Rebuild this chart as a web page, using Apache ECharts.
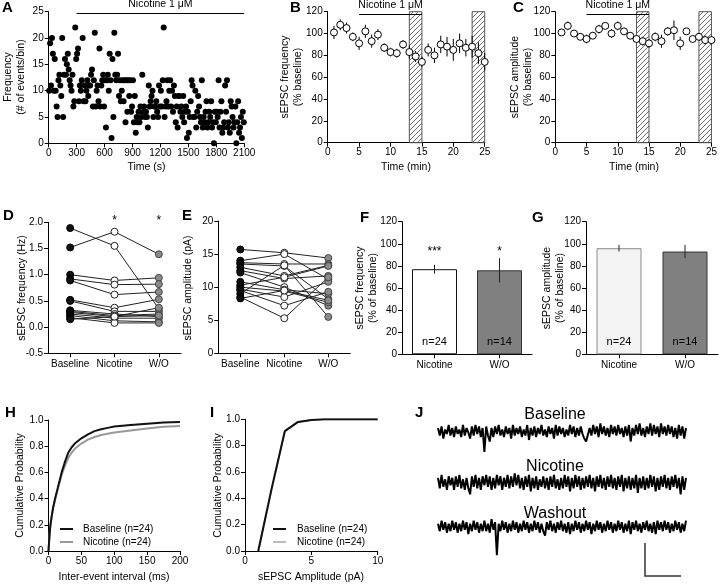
<!DOCTYPE html>
<html><head><meta charset="utf-8">
<script src="https://cdn.jsdelivr.net/npm/echarts@6/dist/echarts.min.js"></script>
<style>html,body{margin:0;padding:0;background:#fff}#c{width:720px;height:584px}</style>
</head><body><div id="c"></div>
<script>
// ---------- DATA ----------
const binSeconds = 10;
const aFrequency = [
10,19,11,20,17,10,16,10,7,5, 12,13,11,9,20,5,13,16,13,15, 17,14,12,11,10,13,7,8,22,16,
17,18,8,11,10,12,20,8,11,8, 10,12,9,11,11,13,14,7,12,21, 7,10,11,8,18,7,11,12,13,7,
12,3,12,13,10,17,12,1,16,5, 21,13,12,13,17,9,12,8,10,12, 8,12,4,12,6,12,9,12,6,7,
12,4,9,2,5,4,6,4,7,5, 13,6,7,5,6,5,3,11,7,8, 9,10,5,7,7,8,6,5,11,7,
10,7,12,22,5,7,8,12,7,10, 12,7,10,6,11,9,4,7,3,9, 9,6,7,5,9,4,6,7,1,6,
2,5,8,12,11,5,5,10,3,6, 9,7,5,4,12,3,5,4,6,8, 3,4,6,5,8,3,4,0,6,4,
6,5,12,3,6,8,2,3,4,11, 6,12,3,4,2,8,7,5,3,4, 7,0,4,8,2,3,5,1,6,4];

const timeMin = [1,2,3,4,5,6,7,8,9,10,11,12,13,14,15,16,17,18,19,20,21,22,23,24,25];
const bMean = [101,108,105,97,91,102,93,99,87,83,82,90,83,79,74,85,80,90,88,85,91,87,88,82,74];
const bSem  = [6,5,5,4,6,6,6,5,4,4,4,4,6,5,5,6,7,8,9,10,9,8,10,10,8];
const cMean = [101,107,100,97,95,98,104,107,100,107,102,98,95,93,91,97,93,102,103,91,102,95,97,94,94];
const cSem  = [3,4,3,3,4,3,4,3,4,4,3,3,3,4,4,4,6,4,9,6,3,2,3,4,4];
const hatchRanges = [[13,15],[23,25]];
const nicotineMin = [5,15];
const nicotineSec = [300,2100];

const dCats = ['Baseline','Nicotine','W/O'];
const dBaseline = [1.89,1.52,1.00,0.92,0.89,0.52,0.50,0.32,0.30,0.28,0.25,0.22,0.18,0.15];
const dNicotine = [1.55,1.82,0.89,0.81,0.62,0.37,0.30,0.25,0.22,0.20,0.17,0.12,0.08,0.20];
const dWashout  = [0.35,1.39,0.94,0.82,0.67,0.53,0.30,0.20,0.25,0.37,0.17,0.10,0.08,0.22];

const eBaseline = [15.7,14.0,13.7,13.5,13.0,12.5,12.2,10.8,10.3,10.0,9.7,9.5,9.0,8.5,8.3];
const eNicotine = [15.2,15.0,13.5,13.2,11.7,11.3,10.0,9.6,11.5,9.4,8.5,7.2,13.3,5.3,9.5];
const eWashout  = [14.4,11.2,13.5,8.2,13.3,11.7,7.2,9.0,13.2,7.7,10.8,9.3,5.5,11.5,8.0];

const fgCats = ['Nicotine','W/O'];
const fMean = [77,76], fSem = [4,11];
const gMean = [96,93], gSem = [3,6];
const nLabels = ['n=24','n=14'];
const fStars = ['***','*'];
const dStars = ['', '*', '*'];

const hX = [0,1,2,3,5,7,10,14,20,25,30,35,40,50,60,70,80,90,100,125,150,175,200];
const hBaseline = [0,0.08,0.15,0.2,0.27,0.33,0.4,0.48,0.6,0.68,0.75,0.79,0.82,0.86,0.89,0.915,0.93,0.94,0.95,0.962,0.972,0.98,0.985];
const hNicotine = [0,0.08,0.15,0.2,0.27,0.33,0.39,0.47,0.58,0.65,0.71,0.75,0.78,0.82,0.85,0.87,0.885,0.895,0.905,0.92,0.935,0.948,0.955];
const iX = [1,2,3,4,5,6,10];
const iBaseline = [0,0.47,0.91,0.98,0.995,1,1];
const iNicotine = [0,0.47,0.91,0.98,0.995,1,1];

const traceBaseline = [
2,-3,3,-5,1,-2,4,-3,2,-4, 3,-2,1,-4,4,-3,2,-1,-5,3, -3,4,-2,3,-4,2,-14,3,-3,-7,
2,-4,3,-2,4,-3,1,-4,3,-2, 2,-5,4,-3,2,-2,3,-4,1,-3, 4,-6,2,-3,3,-4,2,-2,4,-3,
1,-4,3,-2,2,-5,4,-3,3,-2, 2,-4,1,-3,4,-2,3,-4,2,-3, 3,-2,-5,-7,-7,2,-3,4,-2,3,
-4,5,-2,3,-3,2,-4,4,-2,3, -3,4,-2,2,-4,3,-3,4,-7,2, -3,4,-2,5,-3,2,-4,3,-2,5,
-3,4,-2,3,-4,5,-2,3,-3,4, -2,3,-4,2,-5,4,-3,3,-5,2];
const traceNicotine = [
3,-4,5,-3,2,-5,4,-2,3,-5, 4,-3,5,-4,2,-5,3,-4,-8,4, -3,5,-4,3,-5,4,-2,5,-3,4,
-5,3,-4,5,-2,4,-5,3,-3,5, -4,4,-3,6,-2,5,-4,3,-5,4, -3,5,-6,3,-4,4,-5,2,-3,4,
-4,3,-5,4,-3,5,-4,2,-5,3, -4,5,-3,4,-6,3,-4,5,-3,4, -5,3,-4,4,-3,5,-4,3,-6,4,
-3,5,-4,3,-5,4,-3,5,-4,3, -5,4,-3,5,-6,3,-4,4,-5,3, -4,5,-7,3,-4,4,-5,3,-4,5,
-3,4,-6,3,-5,4,-3,5,-4,3, -5,4,-3,5,-4,3,-8,4,-5,3];
const traceWashout = [
2,-3,4,-2,3,-4,2,-3,4,-2, 3,-4,2,-3,4,-2,3,-5,2,-3, 4,-2,3,-4,2,-3,4,-3,2,-4,
5,-2,3,-19,2,-3,4,-2,3,-4, 2,-3,4,-2,3,-4,2,-3,4,-2, 3,-4,2,-3,4,-2,3,-4,2,-3,
-6,3,-2,4,-3,2,-4,3,-2,4, -3,2,-4,3,-5,2,-3,4,-2,3, -4,2,-3,4,-2,3,-5,2,-3,4,
-2,3,-4,2,-3,4,-2,3,-4,2, -3,4,-2,3,-4,2,-3,4,-5,3, -2,4,-3,2,-4,3,-2,4,-3,2,
-4,3,-5,4,-2,3,-3,4,-2,3, -4,2,-3,4,-2,3,-4,2,-3,4];

// ---------- STYLE ----------
const FONT = '"Liberation Sans", Arial, Helvetica, sans-serif';
const chart = echarts.init(document.getElementById('c'), null, {renderer:'canvas'});

const pat = document.createElement('canvas');
pat.width = 5; pat.height = 5;
(function(){const c = pat.getContext('2d'); c.strokeStyle = '#6e6e6e'; c.lineWidth = 1;
 c.beginPath(); c.moveTo(0,5); c.lineTo(5,0); c.moveTo(-1,1); c.lineTo(1,-1); c.moveTo(4,6); c.lineTo(6,4); c.stroke();})();

const grids = [
 {left:48.7, top:11.7, width:195.5, height:131.6},   // A
 {left:327.7, top:11.7, width:157, height:131},      // B
 {left:555.3, top:11.7, width:157, height:131},      // C
 {left:48, top:222.3, width:133, height:131},        // D
 {left:218.3, top:221, width:132, height:132.3},     // E
 {left:402, top:221.7, width:130, height:132.6},     // F
 {left:586, top:221.7, width:132, height:132.6},     // G
 {left:48.5, top:420, width:131.5, height:131},      // H
 {left:245, top:419.3, width:132.7, height:131.7},   // I
 {left:438, top:419, width:248, height:45},          // J1
 {left:438, top:470.3, width:248, height:45},        // J2
 {left:438, top:514.7, width:248, height:45}         // J3
];

const axBase = () => ({
  axisLine:{show:true, onZero:false, lineStyle:{color:'#000', width:1}},
  axisTick:{show:true, length:4, lineStyle:{color:'#000', width:1}},
  axisLabel:{color:'#000', fontSize:10, fontFamily:FONT, margin:5, formatter:v=>String(v)},
  splitLine:{show:false}
});
function vAx(g, min, max, interval, fmt){
  const a = Object.assign(axBase(), {type:'value', gridIndex:g, min, max, interval});
  if (fmt) a.axisLabel.formatter = fmt;
  return a;
}
function cAx(g, cats){
  const a = Object.assign(axBase(), {type:'category', gridIndex:g, data:cats, boundaryGap:true});
  a.axisTick.alignWithLabel = true;
  a.axisLabel.margin = 6;
  a.axisLabel.interval = 0;
  a.axisLabel.formatter = v => v;
  return a;
}
const f1 = v => v.toFixed(1);
const hidden = (g, min, max) => ({type:'value', gridIndex:g, min, max, show:false});

const xAxis = [
  vAx(0,0,2100,300), vAx(1,0,25,5), vAx(2,0,25,5),
  cAx(3,dCats), cAx(4,dCats), cAx(5,fgCats), cAx(6,fgCats),
  vAx(7,0,200,50), vAx(8,0,10,5),
  hidden(9,0,traceBaseline.length-1), hidden(10,0,traceNicotine.length-1), hidden(11,0,traceWashout.length-1)
];
const yAxis = [
  vAx(0,0,25,5), vAx(1,0,120,20), vAx(2,0,120,20),
  vAx(3,-0.5,2.0,0.5,f1), vAx(4,0,20,5), vAx(5,0,120,20), vAx(6,0,120,20),
  vAx(7,0,1,0.2,f1), vAx(8,0,1,0.2,f1),
  hidden(9,-22,8), hidden(10,-22,8), hidden(11,-22,8)
];

const series = [];
const nicLabel = {show:true, position:'insideMiddleTop', distance:3, formatter:'Nicotine 1 μM', color:'#000', fontSize:10.5, fontFamily:FONT};
function nicMark(range, y){
  return {silent:true, symbol:['none','none'], animation:false, label:nicLabel,
    lineStyle:{color:'#000', width:1, type:'solid'},
    data:[[{coord:[range[0], y]}, {coord:[range[1], y]}]]};
}

// A
series.push({type:'scatter', xAxisIndex:0, yAxisIndex:0, symbolSize:6, itemStyle:{color:'#000', opacity:1},
  data: aFrequency.map((v,i)=>[(i+0.5)*binSeconds, v]), markLine:nicMark(nicotineSec, 24.8)});

// B and C
function hatchSeries(ax){
  return {type:'custom', xAxisIndex:ax, yAxisIndex:ax, z:1, data:hatchRanges,
    renderItem:(p, api)=>{
      const p0 = api.coord([api.value(0), 120]);
      const p1 = api.coord([api.value(1), 0]);
      return {type:'rect', shape:{x:p0[0], y:p0[1], width:p1[0]-p0[0], height:p1[1]-p0[1]},
        style:{fill:{image:pat, repeat:'repeat'}, stroke:'#555', lineWidth:1}};
    }};
}
function errSeries(ax, data, color, z){
  return {type:'custom', xAxisIndex:ax, yAxisIndex:ax, z:z||2, data:data,
    renderItem:(p, api)=>{
      const x = api.value(0), m = api.value(1), e = api.value(2);
      const t = api.coord([x, m+e]), b = api.coord([x, m-e]);
      return {type:'line', shape:{x1:t[0], y1:t[1], x2:b[0], y2:b[1]}, style:{stroke:color||'#000', lineWidth:1}};
    }};
}
[[1,bMean,bSem],[2,cMean,cSem]].forEach(([ax, mean, sem])=>{
  series.push(hatchSeries(ax));
  series.push(errSeries(ax, timeMin.map((t,i)=>[t, mean[i], sem[i]]), '#000', 2));
  series.push({type:'scatter', xAxisIndex:ax, yAxisIndex:ax, z:3, symbol:'circle', symbolSize:7,
    itemStyle:{color:'#fff', borderColor:'#000', borderWidth:1, opacity:1},
    data: timeMin.map((t,i)=>[t, mean[i]]), markLine:nicMark(nicotineMin, 118)});
});

// D and E
function pairedPanel(ax, base, nic, wo, size){
  base.forEach((b,i)=>{
    series.push({type:'line', xAxisIndex:ax, yAxisIndex:ax, z:2, symbol:'none', silent:true,
      lineStyle:{color:'#222', width:1}, data:[b, nic[i], wo[i]]});
  });
  const mk = (idx, vals, fill, border) => series.push({type:'scatter', xAxisIndex:ax, yAxisIndex:ax, z:3,
    symbolSize:size, itemStyle:{color:fill, borderColor:border, borderWidth:1, opacity:1},
    data: vals.map(v=>[idx, v])});
  mk(0, base, '#111', '#000');
  mk(1, nic, '#fff', '#222');
  mk(2, wo, '#8a8a8a', '#444');
}
pairedPanel(3, dBaseline, dNicotine, dWashout, 7);
pairedPanel(4, eBaseline, eNicotine, eWashout, 7);

// F and G
function barPanel(ax, mean, sem, fills, borders){
  series.push({type:'bar', xAxisIndex:ax, yAxisIndex:ax, barWidth:45, z:2,
    data: mean.map((v,i)=>({value:v, itemStyle:{color:fills[i], borderColor:borders[i], borderWidth:1}})),
    label:{show:true, position:'insideBottom', distance:7, formatter:p=>nLabels[p.dataIndex], color:'#000', fontSize:11, fontFamily:FONT}});
  series.push(errSeries(ax, mean.map((v,i)=>[i, v, sem[i]]), '#222', 3));
}
barPanel(5, fMean, fSem, ['#ffffff','#808080'], ['#111','#333']);
barPanel(6, gMean, gSem, ['#f3f3f3','#808080'], ['#8a8a8a','#333']);

// H and I
series.push({type:'line', xAxisIndex:7, yAxisIndex:7, symbol:'none', z:2, lineStyle:{color:'#999', width:2}, data:hX.map((x,i)=>[x,hNicotine[i]])});
series.push({type:'line', xAxisIndex:7, yAxisIndex:7, symbol:'none', z:3, lineStyle:{color:'#111', width:2}, data:hX.map((x,i)=>[x,hBaseline[i]])});
series.push({type:'line', xAxisIndex:8, yAxisIndex:8, symbol:'none', z:2, lineStyle:{color:'#bbb', width:2}, data:iX.map((x,i)=>[x,iNicotine[i]])});
series.push({type:'line', xAxisIndex:8, yAxisIndex:8, symbol:'none', z:3, lineStyle:{color:'#111', width:2}, data:iX.map((x,i)=>[x,iBaseline[i]])});

// J traces
[traceBaseline, traceNicotine, traceWashout].forEach((tr, k)=>{
  series.push({type:'line', xAxisIndex:9+k, yAxisIndex:9+k, symbol:'none', silent:true,
    lineStyle:{color:'#000', width:2, join:'bevel'}, data: tr.map((v,i)=>[i,v])});
});

chart.setOption({animation:false, grid:grids, xAxis, yAxis, series});

// ---------- TEXT / ANNOTATIONS ----------
const T = (x, y, text, size, opts) => Object.assign({type:'text', x, y, silent:true,
  style:Object.assign({text, fill:'#000', font:`${size}px ${FONT}`, textAlign:'center', textVerticalAlign:'middle', lineHeight:13}, (opts&&opts.style)||{})},
  opts && opts.rot ? {rotation:Math.PI/2} : {});
const L = (x, y, t) => T(x, y, t, 15, {style:{font:`bold 15px ${FONT}`, textAlign:'left'}});
const px = (g, pt) => chart.convertToPixel({gridIndex:g}, pt);

const g = [];
[['A',2,7.5],['B',290,7.5],['C',513,7.5],['D',3,216],['E',182,216],['F',360,217.5],['G',532,217.5],['H',5,412.5],['I',210,412.5],['J',415,413]]
  .forEach(([t,x,y])=>g.push(L(x,y,t)));
g.push(T(146.5,166.7,'Time (s)',10.5));
g.push(T(406,166.7,'Time (min)',10.5));
g.push(T(634,166.7,'Time (min)',10.5));
g.push(T(114,576.7,'Inter-event interval (ms)',10.5));
g.push(T(311,577,'sEPSC Amplitude (pA)',10.5));
g.push(T(14.5,77,'Frequency\n(# of events/bin)',10.5,{rot:true}));
g.push(T(291.5,77,'sEPSC frequency\n(% baseline)',10.5,{rot:true}));
g.push(T(522,77,'sEPSC amplitude\n(% baseline)',10.5,{rot:true}));
g.push(T(21.7,288,'sEPSC frequency (Hz)',10.5,{rot:true}));
g.push(T(188,288,'sEPSC amplitude (pA)',10.5,{rot:true}));
g.push(T(366.5,288,'sEPSC frequency\n(% of baseline)',10.5,{rot:true}));
g.push(T(553.3,288,'sEPSC amplitude\n(% of baseline)',10.5,{rot:true}));
g.push(T(20,485.5,'Cumulative Probability',10.5,{rot:true}));
g.push(T(218,485.5,'Cumulative Probability',10.5,{rot:true}));
dStars.forEach((s,i)=>{ if(s){ const p = px(3,[i,2.04]); g.push(T(p[0],p[1],s,12)); }});
fStars.forEach((s,i)=>{ const p = px(5,[i,93]); g.push(T(p[0],p[1],s,12)); });
[[60,83],[273,297]].forEach(([lx,tx])=>{
  g.push({type:'line', silent:true, shape:{x1:lx,y1:529,x2:lx+13,y2:529}, style:{stroke:'#111', lineWidth:2}});
  g.push({type:'line', silent:true, shape:{x1:lx,y1:542,x2:lx+13,y2:542}, style:{stroke:lx<100?'#999':'#bbb', lineWidth:2}});
  g.push(T(tx,529,'Baseline (n=24)',10,{style:{textAlign:'left'}}));
  g.push(T(tx,542,'Nicotine (n=24)',10,{style:{textAlign:'left'}}));
});
g.push(T(555,415,'Baseline',16));
g.push(T(555,466.7,'Nicotine',16));
g.push(T(555,513.3,'Washout',16));
g.push({type:'polyline', silent:true, shape:{points:[[645,543],[645,576],[681,576]]}, style:{stroke:'#333', lineWidth:1.5, fill:null}});

chart.setOption({graphic:{elements:g}});
</script></body></html>
